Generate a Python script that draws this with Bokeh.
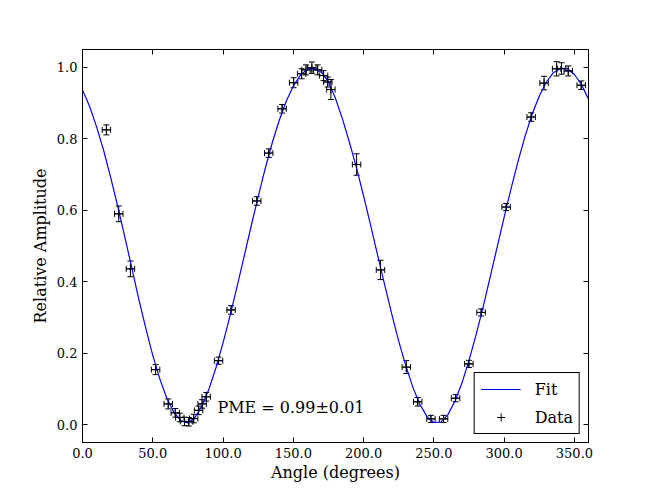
from bokeh.plotting import figure
from bokeh.models import (ColumnDataSource, Whisker, TeeHead, Label, Legend, LegendItem,
                          LinearAxis, FixedTicker, PrintfTickFormatter, Range1d)
from bokeh.embed import file_html
from bokeh.resources import INLINE

# ---- data ----
angle = [17.0, 25.8, 34.1, 52.0, 61.0, 66.0, 69.2, 72.6, 75.6, 79.1, 82.6, 85.1, 88.0,
         96.8, 105.7, 124.0, 132.5, 142.0, 150.2, 155.9, 159.0, 163.2, 167.3, 171.5,
         174.5, 176.7, 195.0, 212.0, 230.4, 238.5, 247.9, 256.9, 265.4, 274.9, 283.6,
         301.4, 319.2, 328.4, 337.3, 340.8, 345.6, 354.8]
amplitude = [0.825, 0.590, 0.436, 0.154, 0.058, 0.033, 0.020, 0.009, 0.008, 0.017, 0.040,
             0.058, 0.078, 0.179, 0.321, 0.626, 0.760, 0.884, 0.957, 0.982, 0.993, 0.999,
             0.993, 0.977, 0.959, 0.938, 0.728, 0.433, 0.161, 0.064, 0.016, 0.016, 0.074,
             0.170, 0.314, 0.609, 0.861, 0.956, 0.996, 0.997, 0.990, 0.950]
amp_err = [0.014, 0.022, 0.022, 0.014, 0.014, 0.012, 0.012, 0.012, 0.012, 0.012, 0.012,
           0.012, 0.012, 0.010, 0.012, 0.012, 0.012, 0.012, 0.014, 0.014, 0.014, 0.016,
           0.014, 0.014, 0.014, 0.028, 0.030, 0.027, 0.018, 0.012, 0.010, 0.010, 0.010,
           0.010, 0.010, 0.010, 0.012, 0.019, 0.020, 0.016, 0.014, 0.012]
angle_err = [3.0] * len(angle)

# fitted curve, read every 5 degrees
fit_angle = list(range(0, 365, 5))
fit_amp = [0.937, 0.891, 0.834, 0.768, 0.693, 0.612, 0.527, 0.440, 0.352, 0.270,
           0.194, 0.128, 0.074, 0.035, 0.011, 0.005, 0.020, 0.053, 0.100, 0.160,
           0.229, 0.305, 0.387, 0.471, 0.556, 0.638, 0.717, 0.789, 0.852, 0.906,
           0.948, 0.978, 0.995, 0.997, 0.986, 0.960, 0.913, 0.855, 0.789, 0.718,
           0.640, 0.558, 0.474, 0.391, 0.310, 0.233, 0.165, 0.105, 0.057, 0.023,
           0.006, 0.007, 0.028, 0.066, 0.117, 0.180, 0.251, 0.329, 0.412, 0.497,
           0.581, 0.662, 0.739, 0.809, 0.870, 0.920, 0.959, 0.985, 0.997, 0.996,
           0.980, 0.952, 0.911]

x_ticks = [0, 50, 100, 150, 200, 250, 300, 350]
y_ticks = [0.0, 0.2, 0.4, 0.6, 0.8, 1.0]
annotation = "PME = 0.99\u00b10.01"

FONT = "DejaVu Serif"

p = figure(frame_width=506, frame_height=393, output_backend="svg", toolbar_location=None,
           x_range=Range1d(0, 360), y_range=Range1d(-0.05, 1.05),
           min_border_left=82, min_border_top=49, min_border_right=50, min_border_bottom=0)
p.background_fill_color = "white"
p.border_fill_color = "white"
p.outline_line_color = "black"
p.outline_line_width = 1
p.xgrid.visible = False
p.ygrid.visible = False

for ax in (p.xaxis[0], p.yaxis[0]):
    ax.major_tick_in = 5
    ax.major_tick_out = 0
    ax.minor_tick_line_color = None
    ax.axis_line_color = "black"
    ax.major_tick_line_color = "black"
    ax.major_label_text_font = FONT
    ax.major_label_text_font_size = "13px"
    ax.major_label_text_color = "black"
    ax.axis_label_text_font = FONT
    ax.axis_label_text_font_size = "16px"
    ax.axis_label_text_font_style = "normal"
    ax.axis_label_text_color = "black"
    ax.formatter = PrintfTickFormatter(format="%.1f")

p.xaxis[0].ticker = FixedTicker(ticks=x_ticks)
p.yaxis[0].ticker = FixedTicker(ticks=y_ticks)
p.xaxis[0].axis_label = "Angle (degrees)"
p.yaxis[0].axis_label = "Relative Amplitude"
p.xaxis[0].major_label_standoff = 5
p.yaxis[0].major_label_standoff = 5
p.xaxis[0].axis_label_standoff = 2
p.yaxis[0].axis_label_standoff = 4

top_ax = LinearAxis(ticker=FixedTicker(ticks=x_ticks), major_tick_in=5, major_tick_out=0,
                    minor_tick_line_color=None, major_label_text_color=None,
                    major_label_text_font_size="1px", major_label_standoff=0,
                    axis_line_color="black")
right_ax = LinearAxis(ticker=FixedTicker(ticks=y_ticks), major_tick_in=5, major_tick_out=0,
                      minor_tick_line_color=None, major_label_text_color=None,
                      major_label_text_font_size="1px", major_label_standoff=0,
                      axis_line_color="black")
p.add_layout(top_ax, "above")
p.add_layout(right_ax, "right")

# fit line
fit_r = p.line(fit_angle, fit_amp, line_color="#0000ff", line_width=1.2)

# error bars
src = ColumnDataSource(dict(
    x=angle, y=amplitude,
    yl=[a - e for a, e in zip(amplitude, amp_err)],
    yu=[a + e for a, e in zip(amplitude, amp_err)],
    xl=[a - e for a, e in zip(angle, angle_err)],
    xu=[a + e for a, e in zip(angle, angle_err)],
))
vw = Whisker(source=src, base="x", lower="yl", upper="yu", dimension="height",
             line_color="black", line_width=1,
             lower_head=TeeHead(size=6, line_color="black", line_width=1),
             upper_head=TeeHead(size=6, line_color="black", line_width=1))
hw = Whisker(source=src, base="y", lower="xl", upper="xu", dimension="width",
             line_color="black", line_width=1,
             lower_head=TeeHead(size=6, line_color="black", line_width=1),
             upper_head=TeeHead(size=6, line_color="black", line_width=1))
p.add_layout(vw)
p.add_layout(hw)

# centre crosses of the data points (also give the legend its icon)
data_r = p.scatter(x="x", y="y", source=src, marker="cross", size=8,
                   line_color="black", line_width=1)

legend = Legend(items=[LegendItem(label="Fit", renderers=[fit_r]),
                       LegendItem(label="Data", renderers=[data_r])],
                location="bottom_right", margin=8, padding=6, spacing=8,
                glyph_width=40, glyph_height=20, label_height=20, label_standoff=14,
                label_text_font=FONT, label_text_font_size="16px", label_text_color="black",
                border_line_color="black", border_line_width=1, border_line_alpha=1,
                background_fill_color="white", background_fill_alpha=1)
p.add_layout(legend)

p.add_layout(Label(x=96, y=0.047, text=annotation, text_font=FONT, text_font_size="16px",
                   text_color="black", text_baseline="alphabetic"))

open("out.html", "w").write(file_html(p, INLINE))
